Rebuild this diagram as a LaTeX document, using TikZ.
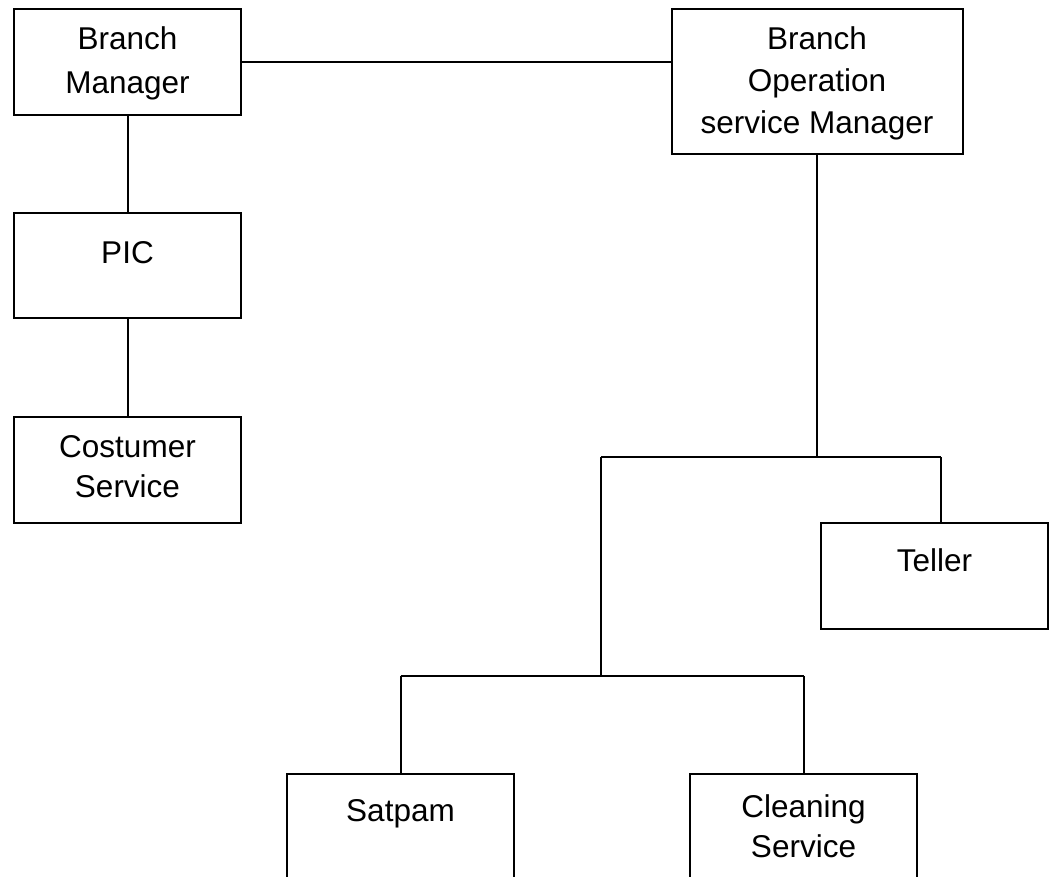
\documentclass[tikz,border=0pt]{standalone}
\usepackage{fontspec}
\setmainfont{Liberation Sans}
\begin{document}
\begin{tikzpicture}[x=1pt,y=-1pt,
  box/.style={draw=black,line width=2pt,rectangle,inner sep=0pt},
  lbl/.style={anchor=north,inner sep=0pt,align=center,font=\fontsize{31.5}{42}\selectfont},
  conn/.style={draw=black,line width=2pt}]
\useasboundingbox (0,0) rectangle (1051,876);
\clip (0,0) rectangle (1051,876);
% boxes
\node[box,minimum width=227pt,minimum height=106pt] (bm) at (127.5,62) {};
\node[box,minimum width=291pt,minimum height=145pt] (bosm) at (817,81.5) {};
\node[box,minimum width=227pt,minimum height=105pt] (pic) at (127.5,265.5) {};
\node[box,minimum width=227pt,minimum height=106pt] (cs) at (127.5,470) {};
\node[box,minimum width=227pt,minimum height=106pt] (teller) at (934.5,576) {};
\node[box,minimum width=227pt,minimum height=130pt] (satpam) at (400.5,839) {};
\node[box,minimum width=227pt,minimum height=130pt] (clean) at (803.5,839) {};
% labels
\node[lbl,font=\fontsize{31.5}{44}\selectfont] (tbm) at ([yshift=-18pt]bm.north) {Branch\\Manager};
\node[lbl] (tbosm) at ([yshift=-18pt]bosm.north) {Branch\\Operation\\service Manager};
\node[lbl] (tpic) at ([yshift=-29pt]pic.north) {PIC};
\node[lbl,font=\fontsize{31.5}{40}\selectfont] (tcs) at ([yshift=-19pt]cs.north) {Costumer\\Service};
\node[lbl] (tteller) at ([yshift=-26pt]teller.north) {Teller};
\node[lbl] (tsatpam) at ([yshift=-26pt]satpam.north) {Satpam};
\node[lbl,font=\fontsize{31.5}{40}\selectfont] (tclean) at ([yshift=-21pt]clean.north) {Cleaning\\Service};
% junction coordinates
\coordinate (j1) at (817,457);
\coordinate (j1l) at (601,457);
\coordinate (j1r) at (941,457);
\coordinate (j2) at (601,676);
\coordinate (j2l) at (400.5,676);
\coordinate (j2r) at (803.5,676);
% connectors
\draw[conn] (bm.east) ++(0,0) coordinate (bme) -- (bme -| bosm.west);
\draw[conn] (bm.south) -- (pic.north);
\draw[conn] (pic.south) -- (cs.north);
\draw[conn] (bosm.south) -- (j1);
\draw[conn] (j1l) -- (j1r);
\draw[conn] (j1r) -- (j1r |- teller.north);
\draw[conn] (j1l) -- (j2);
\draw[conn] (j2l) -- (j2r);
\draw[conn] (j2l) -- (satpam.north);
\draw[conn] (j2r) -- (clean.north);
\end{tikzpicture}
\end{document}
